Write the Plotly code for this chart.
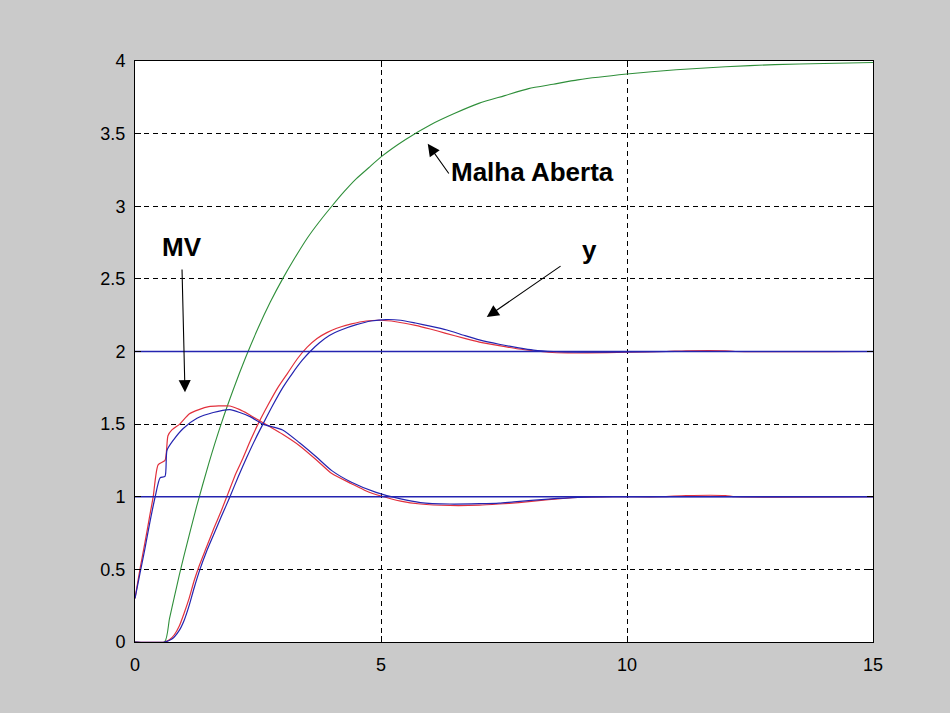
import plotly.graph_objects as go

# ---- data ----
t_open = [0, 0.6, 0.7, 0.8, 0.9, 1.0, 1.25, 1.5, 1.75, 2.0, 2.25, 2.5, 2.75, 3.0, 3.25, 3.5, 3.75, 4.0, 4.25, 4.5, 4.75, 5.0, 5.5, 6.0, 6.5, 7.0, 7.5, 8.0, 8.5, 9.0, 10.0, 11.0, 12.0, 13.0, 14.0, 15.0]
v_open = [0, 0, 0.16, 0.31, 0.46, 0.60, 0.93, 1.23, 1.50, 1.74, 1.96, 2.16, 2.34, 2.50, 2.645, 2.78, 2.895, 3.00, 3.10, 3.19, 3.265, 3.34, 3.46, 3.56, 3.64, 3.71, 3.76, 3.81, 3.84, 3.87, 3.91, 3.94, 3.96, 3.975, 3.983, 3.99]

t_y_red = [0, 0.6, 0.7, 0.8, 0.9, 1.0, 1.1, 1.2, 1.3, 1.45, 1.6, 1.75, 1.9, 2.05, 2.2, 2.35, 2.5, 2.7, 2.9, 3.1, 3.3, 3.5, 3.7, 3.9, 4.1, 4.4, 4.7, 5.0, 5.3, 5.7, 6.0, 6.3, 6.7, 7.0, 7.4, 7.8, 8.1, 8.4, 8.8, 9.2, 10.0, 10.8, 11.2, 12.0, 12.2, 15.0]
v_y_red = [0, 0, 0.015, 0.05, 0.11, 0.2, 0.3, 0.42, 0.52, 0.65, 0.78, 0.9, 1.03, 1.16, 1.27, 1.39, 1.5, 1.63, 1.75, 1.85, 1.95, 2.03, 2.09, 2.13, 2.16, 2.19, 2.21, 2.215, 2.205, 2.18, 2.155, 2.127, 2.09, 2.065, 2.04, 2.017, 2.005, 1.995, 1.99, 1.99, 1.995, 2.0, 2.005, 2.005, 2.0, 2.0]

t_y_blue = [0, 0.6, 0.75, 0.9, 1.0, 1.1, 1.2, 1.32, 1.45, 1.6, 1.75, 1.93, 2.1, 2.27, 2.45, 2.6, 2.8, 3.0, 3.2, 3.4, 3.56, 3.75, 3.95, 4.2, 4.5, 4.8, 5.1, 5.4, 5.7, 6.0, 6.34, 6.7, 7.0, 7.4, 7.8, 8.1, 8.5, 9.0, 10.0, 11.0, 15.0]
v_y_blue = [0, 0, 0.02, 0.08, 0.15, 0.25, 0.37, 0.5, 0.62, 0.74, 0.86, 1.0, 1.14, 1.27, 1.4, 1.5, 1.63, 1.75, 1.85, 1.94, 2.0, 2.06, 2.11, 2.15, 2.185, 2.21, 2.22, 2.215, 2.196, 2.175, 2.148, 2.11, 2.08, 2.05, 2.025, 2.01, 2.0, 1.995, 1.997, 2.0, 2.0]

t_mv_red = [0, 0.1, 0.2, 0.3, 0.37, 0.47, 0.61, 0.67, 0.75, 0.91, 1.1, 1.3, 1.5, 1.7, 1.93, 2.13, 2.3, 2.5, 2.7, 3.0, 3.35, 3.7, 4.0, 4.4, 4.7, 5.0, 5.4, 5.8, 6.4, 7.0, 7.4, 7.8, 8.4, 9.0, 9.7, 10.7, 11.2, 12.0, 12.2, 15.0]
v_mv_red = [0.3, 0.5, 0.68, 0.87, 1.0, 1.22, 1.25, 1.42, 1.46, 1.5, 1.57, 1.6, 1.62, 1.625, 1.625, 1.6, 1.57, 1.53, 1.49, 1.43, 1.35, 1.25, 1.16, 1.09, 1.04, 1.005, 0.97, 0.95, 0.94, 0.942, 0.95, 0.96, 0.98, 0.995, 1.0, 1.0, 1.008, 1.008, 1.0, 1.0]

t_mv_blue = [0, 0.1, 0.2, 0.3, 0.41, 0.51, 0.61, 0.65, 0.78, 0.98, 1.26, 1.59, 1.93, 2.13, 2.35, 2.6, 3.0, 3.35, 3.7, 4.0, 4.4, 4.9, 5.4, 5.8, 6.4, 7.0, 7.4, 7.7, 8.4, 9.0, 9.7, 15.0]
v_mv_blue = [0.3, 0.47, 0.64, 0.82, 1.0, 1.13, 1.14, 1.32, 1.39, 1.47, 1.54, 1.58, 1.60, 1.58, 1.55, 1.5, 1.46, 1.37, 1.27, 1.18, 1.1, 1.03, 0.985, 0.96, 0.95, 0.952, 0.956, 0.965, 0.984, 0.996, 1.0, 1.0]

t_ref = [0, 15]
v_ref_y = [2, 2]
v_ref_mv = [1, 1]

x_ticks = [0, 5, 10, 15]
y_ticks = [0, 0.5, 1, 1.5, 2, 2.5, 3, 3.5, 4]

# annotation labels: (text, x, y)
labels = [("Malha Aberta", 8.07, 3.235), ("MV", 0.955, 2.72), ("y", 9.23, 2.70)]
# arrows: (head_x, head_y, tail_x, tail_y)
arrows = [(5.95, 3.43, 6.40, 3.215), (1.016, 1.72, 0.955, 2.575), (7.15, 2.237, 8.68, 2.595)]

GREEN = "#2f8f3a"
RED = "#e2303c"
BLUE = "#2424b0"

def line(color, w=1.2):
    return dict(color=color, width=w, shape="spline", smoothing=0.6)

fig = go.Figure()
fig.add_trace(go.Scatter(x=t_open, y=v_open, mode="lines", line=line(GREEN, 1.1)))
fig.add_trace(go.Scatter(x=t_y_red, y=v_y_red, mode="lines", line=line(RED)))
fig.add_trace(go.Scatter(x=t_mv_red, y=v_mv_red, mode="lines", line=line(RED)))
fig.add_trace(go.Scatter(x=t_ref, y=v_ref_y, mode="lines", line=dict(color=BLUE, width=1.3)))
fig.add_trace(go.Scatter(x=t_ref, y=v_ref_mv, mode="lines", line=dict(color=BLUE, width=1.3)))
fig.add_trace(go.Scatter(x=t_y_blue, y=v_y_blue, mode="lines", line=line(BLUE)))
fig.add_trace(go.Scatter(x=t_mv_blue, y=v_mv_blue, mode="lines", line=line(BLUE)))

for txt, x, y in labels:
    fig.add_annotation(x=x, y=y, xref="x", yref="y", text="<b>" + txt + "</b>", showarrow=False,
                       xanchor="center", yanchor="middle",
                       font=dict(family="Liberation Sans, Arial, sans-serif", size=26, color="black"))
for hx, hy, tx, ty in arrows:
    fig.add_annotation(x=hx, y=hy, xref="x", yref="y", ax=tx, ay=ty, axref="x", ayref="y",
                       text="", showarrow=True, arrowhead=2, arrowsize=2.2, arrowwidth=1.1,
                       arrowcolor="black", standoff=0, startstandoff=0)

axis_common = dict(showline=True, linecolor="black", linewidth=1, mirror="ticks",
                   ticks="inside", ticklen=6, tickcolor="black", tickwidth=1,
                   showgrid=True, gridcolor="black", gridwidth=1, griddash="5px,4px",
                   zeroline=False, tickfont=dict(family="Liberation Sans, Arial, sans-serif", size=18, color="black"))

fig.update_xaxes(range=[0, 15], tickvals=x_ticks, ticklabelstandoff=6, **axis_common)
fig.update_yaxes(range=[0, 4], tickvals=y_ticks, ticklabelstandoff=5, **axis_common)

fig.update_layout(width=950, height=713, showlegend=False,
                  paper_bgcolor="#cacaca", plot_bgcolor="white",
                  margin=dict(l=135, r=77, t=61, b=71, autoexpand=False))

fig.write_html("out.html")
